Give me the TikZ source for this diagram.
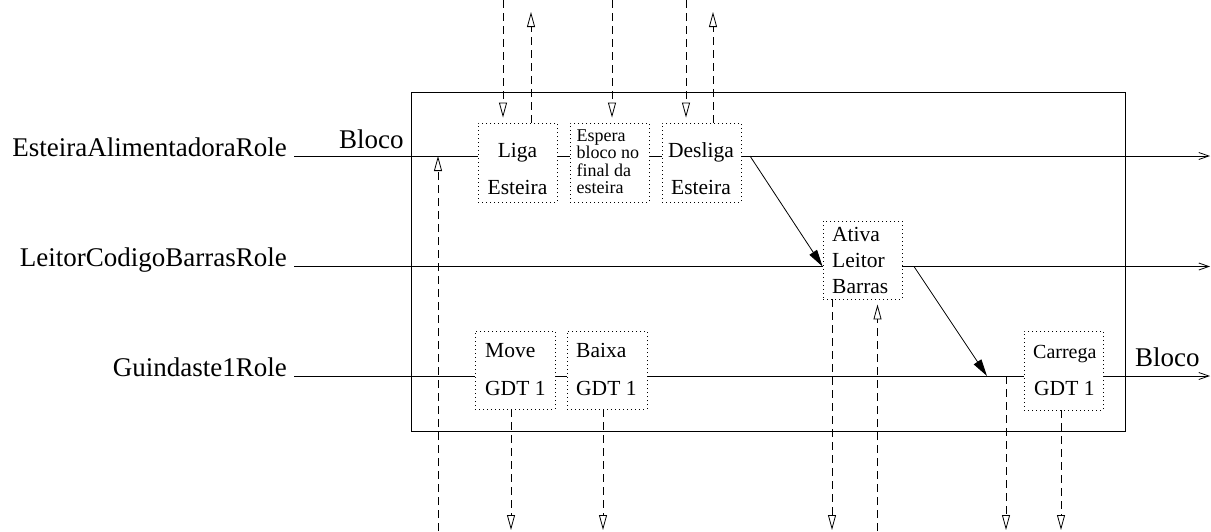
\documentclass[tikz,border=0pt]{standalone}
\usepackage{fontspec}
\setmainfont{Liberation Serif}
\usetikzlibrary{arrows.meta}
\begin{document}
\begin{tikzpicture}[x=1pt,y=-1pt,
  wire/.style={line width=0.8pt},
  sig/.style={line width=0.8pt, dash pattern=on 8pt off 5pt},
  opentip/.style={-{Triangle[open,length=15pt,width=8pt,line width=0.8pt]}},
  barb/.style={-{Straight Barb[length=10pt,width=7pt,line width=0.8pt]}},
  solidtip/.style={-{Triangle[length=17pt,width=9pt]}},
  actbox/.style={draw, line width=0.9pt, dash pattern=on 1pt off 3pt,
    minimum width=79pt, minimum height=79pt, inner sep=0pt},
  big/.style={font=\fontsize{27}{32}\selectfont, inner sep=0pt},
  mid/.style={font=\fontsize{21.5}{26}\selectfont, inner sep=0pt},
  small/.style={font=\fontsize{18}{20}\selectfont, inner sep=0pt},
  carr/.style={font=\fontsize{20}{24}\selectfont, inner sep=0pt}]
\useasboundingbox (0,0) rectangle (1211,531);

% component frame
\node[draw, line width=1pt, minimum width=714pt, minimum height=339pt, inner sep=0pt]
  (comp) at (768,261.5) {};

% activity boxes
\node[actbox] (liga)    at (517.5,162.5) {};
\node[actbox] (espera)  at (609.5,162.5) {};
\node[actbox] (desliga) at (701.5,162.5) {};
\node[actbox, minimum height=78pt] (ativa) at (862.5,260) {};
\node[actbox, minimum width=80pt, minimum height=78pt] (move)  at (515,370) {};
\node[actbox, minimum width=80pt, minimum height=78pt] (baixa) at (607,370) {};
\node[actbox] (carrega) at (1063.5,370.5) {};

% box texts
\node[mid, anchor=base] at (517.5,157) {Liga};
\node[mid, anchor=base] at (517.5,194) {Esteira};
\node[small, anchor=base west] at (576.5,141) {Espera};
\node[small, anchor=base west] at (576.5,158.5) {bloco no};
\node[small, anchor=base west] at (576.5,176) {final da};
\node[small, anchor=base west] at (576.5,193.5) {esteira};
\node[mid, anchor=base] at (701,157) {Desliga};
\node[mid, anchor=base] at (701,194) {Esteira};
\node[mid, anchor=base west] at (832,241) {Ativa};
\node[mid, anchor=base west] at (832,267) {Leitor};
\node[mid, anchor=base west] at (832,293) {Barras};
\node[mid, anchor=base west] at (485,357) {Move};
\node[mid, anchor=base west] at (485,395) {GDT 1};
\node[mid, anchor=base west] at (576,357) {Baixa};
\node[mid, anchor=base west] at (576,395) {GDT 1};
\node[carr, anchor=base west] at (1033,358) {Carrega};
\node[mid, anchor=base west] at (1034,395) {GDT 1};

% role names and block labels
\node[big, anchor=base east] (er) at (287,156) {EsteiraAlimentadoraRole};
\node[big, anchor=base east] (lr) at (287,266.5) {LeitorCodigoBarrasRole};
\node[big, anchor=base east] (gr) at (287,376) {Guindaste1Role};
\node[big, anchor=base west] at (339,148) {Bloco};
\node[big, anchor=base west] at (1135,366) {Bloco};

% line ends and junctions
\coordinate (e1) at (1210,156);
\coordinate (e2) at (1210,266.5);
\coordinate (e3) at (1210,376);
\coordinate (d1) at (750,156);
\coordinate (d2) at (914,266.5);
\coordinate (j3) at (987,376);

% conveyor line
\draw[wire] ([xshift=7pt]er.base east) -- (er.base -| liga.west);
\draw[wire] (er.base -| liga.east) -- (er.base -| espera.west);
\draw[wire] (er.base -| espera.east) -- (er.base -| desliga.west);
\draw[wire, barb] (er.base -| desliga.east) -- (e1);

% bar code reader line
\draw[wire] ([xshift=7pt]lr.base east) -- (lr.base -| ativa.west);
\draw[wire, barb] (lr.base -| ativa.east) -- (e2);

% crane line
\draw[wire] ([xshift=7pt]gr.base east) -- (gr.base -| move.west);
\draw[wire] (gr.base -| move.east) -- (gr.base -| baixa.west);
\draw[wire] (gr.base -| baixa.east) -- (gr.base -| carrega.west);
\draw[wire, barb] (gr.base -| carrega.east) -- (e3);

% control flow between activities
\draw[wire, solidtip] (d1) -- (lr.base -| ativa.west);
\draw[wire, solidtip] (d2) -- (j3);

% signals from above
\coordinate (t1) at (503,0);
\coordinate (t2) at (531,12);
\coordinate (t3) at (612,0);
\coordinate (t4) at (686,0);
\coordinate (t5) at (713,12);
\draw[sig, opentip, shorten >=5pt] (t1) -- (t1 |- liga.north);
\draw[sig, opentip] (t2 |- liga.north) -- (t2);
\draw[sig, opentip, shorten >=5pt] (t3) -- (t3 |- espera.north);
\draw[sig, opentip, shorten >=5pt] (t4) -- (t4 |- desliga.north);
\draw[sig, opentip] (t5 |- desliga.north) -- (t5);

% signals below
\coordinate (b1) at (438,531);
\coordinate (b2) at (511,530);
\coordinate (b3) at (603,530);
\coordinate (b4) at (832,530);
\coordinate (b5) at (877.5,531);
\coordinate (b6) at (1006,530);
\coordinate (b7) at (1061,530);
\draw[sig, opentip] (b1) -- (b1 |- er.base);
\draw[sig, opentip] (b2 |- move.south) -- (b2);
\draw[sig, opentip] (b3 |- baixa.south) -- (b3);
\draw[sig, opentip] (b4 |- ativa.south) -- (b4);
\draw[sig, opentip, shorten >=5pt] (b5) -- (b5 |- ativa.south);
\draw[sig, opentip] (b6 |- gr.base) -- (b6);
\draw[sig, opentip] (b7 |- carrega.south) -- (b7);
\end{tikzpicture}
\end{document}
